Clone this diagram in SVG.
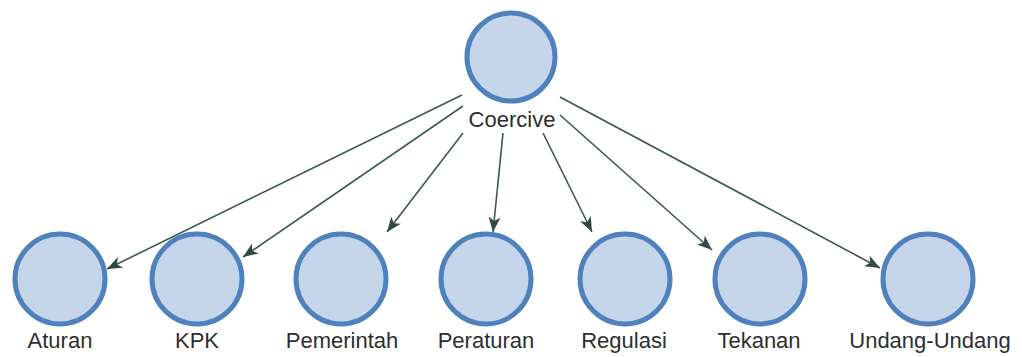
<svg xmlns="http://www.w3.org/2000/svg" width="1022" height="357" viewBox="0 0 1022 357">
  <style>
    .node circle { fill: #c5d5ea; stroke: #4f81bd; stroke-width: 5; }
    .node text { font-family: "Liberation Sans", Arial, sans-serif; font-size: 22px; fill: #2e2e2e; text-anchor: middle; }
    .edge { stroke: #3d5753; stroke-width: 1.6; fill: none; marker-end: url(#arrow); }
  </style>
  <defs>
    <marker id="arrow" markerUnits="userSpaceOnUse" markerWidth="16" markerHeight="12" refX="15" refY="6" orient="auto">
      <path d="M0,0 L15,6 L0,12 L4,6 Z" fill="#2f4a46"/>
    </marker>
  </defs>
  <rect width="1022" height="357" fill="#ffffff"/>

  <!-- connectors from the central node -->
  <g id="connectors">
    <line class="edge" x1="462" y1="95" x2="107" y2="269"/>
    <line class="edge" x1="463" y1="106" x2="243" y2="257"/>
    <line class="edge" x1="463" y1="133" x2="387" y2="232"/>
    <line class="edge" x1="503" y1="133" x2="493" y2="232"/>
    <line class="edge" x1="543" y1="133" x2="592" y2="232"/>
    <line class="edge" x1="560" y1="115" x2="712" y2="250"/>
    <line class="edge" x1="560" y1="97" x2="880" y2="268"/>
  </g>

  <g id="node-coercive" class="node">
    <circle cx="511" cy="57" r="44"/>
    <text x="512" y="127">Coercive</text>
  </g>
  <g id="node-aturan" class="node">
    <circle cx="60" cy="279" r="45"/>
    <text x="60" y="348">Aturan</text>
  </g>
  <g id="node-kpk" class="node">
    <circle cx="197" cy="279" r="45"/>
    <text x="197" y="348">KPK</text>
  </g>
  <g id="node-pemerintah" class="node">
    <circle cx="341" cy="279" r="45"/>
    <text x="342" y="348">Pemerintah</text>
  </g>
  <g id="node-peraturan" class="node">
    <circle cx="486" cy="279" r="45"/>
    <text x="486" y="348">Peraturan</text>
  </g>
  <g id="node-regulasi" class="node">
    <circle cx="625" cy="279" r="45"/>
    <text x="624" y="348">Regulasi</text>
  </g>
  <g id="node-tekanan" class="node">
    <circle cx="760" cy="279" r="45"/>
    <text x="759" y="348">Tekanan</text>
  </g>
  <g id="node-undang-undang" class="node">
    <circle cx="928" cy="279" r="45"/>
    <text x="930" y="348">Undang-Undang</text>
  </g>
</svg>
